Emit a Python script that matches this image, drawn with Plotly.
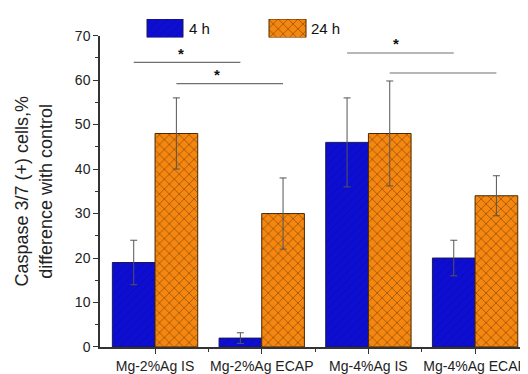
import plotly.graph_objects as go

categories = ["Mg-2%Ag IS", "Mg-2%Ag ECAP", "Mg-4%Ag IS", "Mg-4%Ag ECAP"]
series_names = ["4 h", "24 h"]
vals_4h = [19, 2, 46, 20]
err_4h = [5, 1.2, 10, 4]
vals_24h = [48, 30, 48, 34]
err_24h = [8, 8, 11.8, 4.5]
# significance brackets: (from category, to category, series index, height)
br_from = [0, 0, 2, 2]
br_to = [1, 1, 3, 3]
br_series = [0, 1, 0, 1]
br_y = [64.0, 59.2, 66.1, 61.6]
star_x = [0.24, 0.58, 2.26]
star_y = [64.0, 59.2, 66.1]

blue = "#0E0ED2"
orange = "#F5860F"
xs = list(range(len(categories)))

blue_marker = dict(color=blue, line=dict(color="#1a1a50", width=1),
                   pattern=dict(shape="/", fgcolor="#06068a", bgcolor=blue, size=6, solidity=0.15))
orange_marker = dict(color=orange, line=dict(color="#4a2800", width=1),
                     pattern=dict(shape="x", fgcolor="#2a1800", bgcolor=orange, size=7, solidity=0.2))

fig = go.Figure()
fig.add_trace(go.Bar(
    x=xs, y=vals_4h, name=series_names[0], showlegend=False, marker=blue_marker,
    error_y=dict(type="data", array=err_4h, color="#555555", thickness=1, width=3.5),
))
fig.add_trace(go.Bar(
    x=xs, y=vals_24h, name=series_names[1], showlegend=False, marker=orange_marker,
    error_y=dict(type="data", array=err_24h, color="#555555", thickness=1, width=3.5),
))

off = [-0.2, 0.2]
for f, t, s, yv in zip(br_from, br_to, br_series, br_y):
    fig.add_trace(go.Scatter(x=[f + off[s], t + off[s]], y=[yv, yv], mode="lines",
                             line=dict(color="#707070", width=1.2), showlegend=False, hoverinfo="skip"))
for sx, sy in zip(star_x, star_y):
    fig.add_annotation(x=sx, y=sy, text="<b>*</b>", showarrow=False, yshift=9,
                       font=dict(size=15, color="#111111", family="Liberation Sans"))

# legend swatches on a small helper axis (units = window pixels)
fig.add_trace(go.Bar(x=[165], y=[1], width=[36], offset=-18, xaxis="x2", yaxis="y2",
                     showlegend=False, marker=blue_marker))
fig.add_trace(go.Bar(x=[287.5], y=[1], width=[37], offset=-18.5, xaxis="x2", yaxis="y2",
                     showlegend=False, marker=orange_marker))
for lx, txt in zip([187, 309], series_names):
    fig.add_annotation(x=lx, y=0.5, xref="x2", yref="y2", text=txt, showarrow=False, xanchor="left",
                       font=dict(size=15, color="#111111", family="Liberation Sans"))

fig.update_layout(
    width=520, height=366,
    margin=dict(l=92, r=0, t=2, b=27),
    paper_bgcolor="white", plot_bgcolor="white",
    barmode="group", bargap=0.2, bargroupgap=0,
    font=dict(family="Liberation Sans", color="#222222"),
    xaxis=dict(range=[-0.516, 3.496], tickmode="array", tickvals=xs, ticktext=categories,
               showgrid=False, zeroline=False, showline=True, linecolor="#333333", linewidth=1.5,
               ticks="outside", ticklen=5, tickcolor="#333333", tickfont=dict(size=14, color="#222222"),
               minor=dict(tickmode="array", tickvals=[0.5, 1.5, 2.5], ticks="outside", ticklen=3,
                          tickcolor="#333333")),
    yaxis=dict(range=[0, 70], domain=[0, 0.9407], dtick=10, showgrid=False, zeroline=False,
               showline=True, linecolor="#333333", linewidth=1.5,
               ticks="outside", ticklen=5, tickcolor="#333333", tickfont=dict(size=14, color="#222222"),
               minor=dict(dtick=5, ticks="outside", ticklen=3, tickcolor="#333333"),
               title=dict(text="Caspase 3/7 (+) cells,%<br>difference with control",
                          font=dict(size=18, color="#222222"), standoff=18)),
    xaxis2=dict(domain=[0, 1], range=[100, 528], anchor="y2", visible=False, fixedrange=True),
    yaxis2=dict(domain=[0.9347, 0.991], range=[0, 1], anchor="x2", visible=False, fixedrange=True),
)

fig.write_html("out.html")
